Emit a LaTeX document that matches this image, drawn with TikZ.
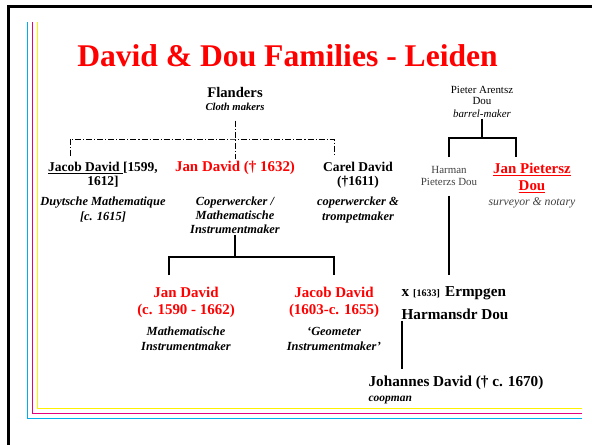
\documentclass[tikz,border=0pt]{standalone}
\usepackage{fontspec}
\setmainfont{Liberation Serif}
\usepackage{tikz}
\usetikzlibrary{calc}

\definecolor{slidecyan}{HTML}{00AEEF}
\definecolor{slidemagenta}{HTML}{E6007E}
\definecolor{slideyellow}{HTML}{FFF200}
\definecolor{softgray}{HTML}{404040}

% multi-line nodes sit on the baseline of their last line
\tikzset{
  person/.style={font=\bfseries\fontsize{10.1}{10.5}\selectfont, align=center, inner sep=1pt, anchor=base},
  relative/.style={font=\bfseries\fontsize{11.2}{12.75}\selectfont, text=red, align=center, inner sep=1pt, anchor=base},
  trade/.style={font=\bfseries\itshape\fontsize{9.3}{11}\selectfont, align=center, inner sep=1pt, anchor=base},
  minor/.style={font=\fontsize{8.2}{8.5}\selectfont, align=center, inner sep=1pt, anchor=base},
  kin/.style={line width=0.9pt},
  uncertain/.style={line width=0.7pt, dash pattern=on 4.5pt off 1.5pt on 0.8pt off 1.5pt}
}

\begin{document}
\begin{tikzpicture}[x=0.75pt, y=-0.75pt]

\useasboundingbox (0,0) rectangle (592,444);

% slide frame
\draw[line width=1.6pt] (8.5,450) -- (8.5,6.5) -- (600,6.5);
\draw[slidecyan, line width=0.75pt] (27,22) -- (27,418) -- (582,418);
\draw[slidemagenta, line width=0.75pt] (32,22) -- (32,413) -- (582,413);
\draw[slideyellow, line width=0.75pt] (37,22) -- (37,408) -- (582,408);

\node[anchor=base west, inner sep=0, text=red, font=\bfseries\fontsize{23.7}{28}\selectfont] (title) at (77,66) {David \& Dou Families - Leiden};

% David side
\node[person, font=\bfseries\fontsize{11}{12}\selectfont] (flanders) at (235,97) {Flanders};
\node[trade, font=\bfseries\itshape\fontsize{8}{9}\selectfont] (cloth) at (235,110) {Cloth makers};

\node[person] (jacob) at (103,185) {\underline{Jacob David }[1599,\\1612]};
\node[trade] (jacobjob) at (103,220) {Duytsche Mathematique\\{}[c. 1615]};

\node[relative] (jan) at (235,171) {Jan David († 1632)};
\node[trade, font=\bfseries\itshape\fontsize{9.3}{10.5}\selectfont] (janjob) at (235,233) {Coperwercker /\\Mathematische\\Instrumentmaker};

\node[person] (carel) at (358,185) {Carel David\\(†1611)};
\node[trade] (careljob) at (358,220) {coperwercker \&\\trompetmaker};

\node[relative] (jan2) at (186,314) {Jan David\\(c. 1590 - 1662)};
\node[trade] (jan2job) at (186,350) {Mathematische\\Instrumentmaker};

\node[relative] (jacob2) at (334,314) {Jacob David\\(1603-c. 1655)};
\node[trade] (jacob2job) at (334,350) {‘Geometer\\Instrumentmaker’};

% Dou side
\node[minor, font=\fontsize{8.2}{8.25}\selectfont] (pieter) at (482,104) {Pieter Arentsz\\Dou};
\node[minor, font=\itshape\fontsize{8.2}{8.5}\selectfont] (barrel) at (482,117) {barrel-maker};

\node[minor, text=softgray, font=\fontsize{8.2}{9}\selectfont] (harman) at (449,185) {Harman\\Pieterzs Dou};

\node[relative] (janp) at (532,190) {\underline{Jan Pietersz}\\\underline{Dou}};
\node[minor, text=softgray, font=\itshape\fontsize{8.8}{10}\selectfont] (survey) at (532,205) {surveyor \& notary};

\node[person, anchor=base west, align=left, font=\bfseries\fontsize{11.4}{17.25}\selectfont] (wife) at (400,319)
  {x\hspace{3pt}{\fontsize{7.5}{8}\selectfont[1633]}\hspace{4pt}Ermpgen\\Harmansdr Dou};

\node[person, anchor=base west, font=\bfseries\fontsize{11.4}{13}\selectfont] (johannes) at (367,386) {Johannes David († c. 1670)};
\node[trade, anchor=base west, font=\bfseries\itshape\fontsize{8.6}{9}\selectfont] (coopman) at (367,401) {coopman};

% connectors
\coordinate (flbus) at (235,139);
\coordinate (jacobdrop) at (70,156);
\coordinate (careldrop) at (334,156);
\draw[uncertain] (cloth.south) ++(0,9) coordinate (flstart) -- (flstart |- jan.north);
\draw[uncertain] (jacobdrop) |- (flbus) -| (careldrop);

\coordinate (pbus) at (482,138);
\coordinate (janpdrop) at (516,157);
\coordinate (jandrop) at (169,275);
\draw[kin] (barrel.south) -- (pbus);
\draw[kin] (harman.north |- janpdrop) |- (pbus) -| (janpdrop);
\draw[kin] (harman.south) ++(0,9) coordinate (hstart) -- (hstart |- jandrop);

\coordinate (janbus) at (235,257);
\draw[kin] (janjob.south) -- (janbus);
\draw[kin] (jandrop) |- (janbus) -| (jandrop -| jacob2.north);

\coordinate (johtop) at (402,369);
\draw[kin] (johtop |- wife.south) -- (johtop);

\end{tikzpicture}
\end{document}
